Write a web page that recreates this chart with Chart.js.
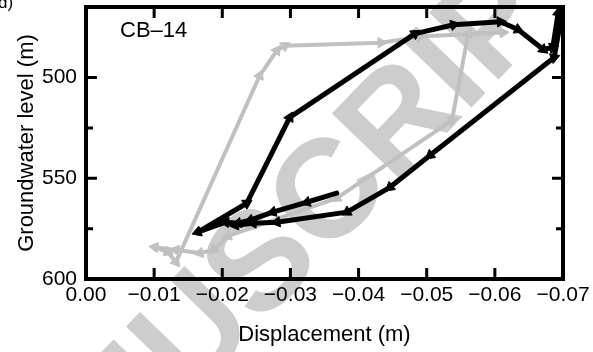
<!DOCTYPE html>
<html><head><meta charset="utf-8">
<script src="https://cdn.jsdelivr.net/npm/chart.js@4.4.1/dist/chart.umd.min.js"></script>
<style>body{margin:0;background:#fff}canvas{display:block}</style>
</head><body>
<canvas id="c" width="593" height="352"></canvas>
<script>
// black path (later period), in time order
const blackDisp  = [-0.0368,-0.0324,-0.0274,-0.0241,-0.0223,-0.0205,-0.0164,-0.0236,-0.0299,-0.0483,-0.0540,-0.0608,-0.0634,-0.0671,-0.0685,-0.0693,-0.0700,-0.0687,-0.0505,-0.0446,-0.0383,-0.0280,-0.0245,-0.0219];
const blackLevel = [557.4,561.9,566.8,570.8,572.3,571.8,576.7,562.4,519.8,478.2,473.8,472.3,476.2,486.1,485.1,467.8,465.3,490.1,538.6,554.5,566.8,571.8,572.3,573.3];
// gray path (earlier period)
const grayDisp  = [-0.0203,-0.0188,-0.0167,-0.0132,-0.0101,-0.0120,-0.0132,-0.0255,-0.0280,-0.0292,-0.0433,-0.0490,-0.0612,-0.0561,-0.0537,-0.0368,-0.0208];
const grayLevel = [580.2,585.6,587.1,585.6,584.2,586.6,591.6,499.0,486.6,484.2,482.7,479.7,477.7,478.2,521.3,559.9,578.7];

const xTickLabels = ['0.00','−0.01','−0.02','−0.03','−0.04','−0.05','−0.06','−0.07'];
const yTickLabels = [500,550,600];
const wellName = 'CB–14';
const panelTag = 'd)';
const watermark = ['MANU','SCRIPT'];

const FONT = '"Liberation Sans", Arial, Helvetica, sans-serif';

const toPts = (xs, ys) => xs.map((x,i)=>({x, y:ys[i]}));

// arrowhead direction = direction of the incoming segment (in pixels)
function arrowRot(ctx){
  const i = ctx.dataIndex, d = ctx.dataset.data, s = ctx.chart.scales;
  if(!i || !s.x || !s.y) return 0;
  const dx = s.x.getPixelForValue(d[i].x) - s.x.getPixelForValue(d[i-1].x);
  const dy = s.y.getPixelForValue(d[i].y) - s.y.getPixelForValue(d[i-1].y);
  return Math.atan2(dy, dx)*180/Math.PI + 90;
}

function path(data, color, width){
  return {
    data, borderColor:color, backgroundColor:color, borderWidth:width,
    borderJoinStyle:'round', borderCapStyle:'round', tension:0,
    pointStyle:'triangle', pointRotation:arrowRot,
    pointRadius: c=> c.dataIndex ? 6 : 0, pointBorderWidth:1,
    pointBackgroundColor:color, pointBorderColor:color
  };
}

const frame = {
  id:'frame',
  beforeDraw(chart){
    const ctx = chart.ctx;
    ctx.save();
    ctx.fillStyle = 'rgb(205,205,205)';
    ctx.font = 'bold 140px ' + FONT;
    ctx.translate(232,300);
    ctx.rotate(-46*Math.PI/180);
    ctx.textBaseline = 'middle';
    ctx.textAlign = 'right'; ctx.fillText(watermark[0],0,0);
    ctx.textAlign = 'left';  ctx.fillText(watermark[1],0,0);
    ctx.restore();
  },
  afterDatasetsDraw(chart){
    const {ctx, chartArea:a, scales:{x,y}} = chart;
    ctx.save();
    ctx.strokeStyle = '#000';
    ctx.lineWidth = 3;
    ctx.beginPath();
    x.ticks.forEach(t=>{
      const px = x.getPixelForValue(t.value);
      ctx.moveTo(px,a.bottom); ctx.lineTo(px,a.bottom-11);
      ctx.moveTo(px,a.top); ctx.lineTo(px,a.top+11);
    });
    y.ticks.forEach(t=>{
      if(t.value % 25) return;
      const py = y.getPixelForValue(t.value), len = t.value % 50 ? 7 : 11;
      ctx.moveTo(a.left,py); ctx.lineTo(a.left+len,py);
      ctx.moveTo(a.right,py); ctx.lineTo(a.right-len,py);
    });
    ctx.stroke();
    ctx.lineWidth = 4;
    ctx.strokeRect(a.left, a.top, a.right-a.left, a.bottom-a.top);
    ctx.fillStyle = '#000';
    ctx.font = '22px ' + FONT;
    ctx.textBaseline = 'alphabetic';
    ctx.fillText(wellName, 120, 37);
    ctx.font = '17px ' + FONT;
    ctx.fillText(panelTag, -2, 8);
    ctx.restore();
  }
};

new Chart(document.getElementById('c'), {
  type:'line',
  data:{ datasets:[
    path(toPts(blackDisp, blackLevel), '#000', 5),
    path(toPts(grayDisp, grayLevel), 'rgb(192,192,192)', 4)
  ]},
  options:{
    responsive:false, animation:false,
    layout:{ padding:{left:0, right:30, top:6, bottom:0} },
    plugins:{ legend:{display:false}, tooltip:{enabled:false} },
    scales:{
      x:{ type:'linear', min:-0.07, max:0, reverse:true,
        grid:{display:false, drawTicks:false}, border:{display:false},
        ticks:{ stepSize:0.01, padding:4, color:'#000', maxRotation:0, autoSkip:false,
          font:{family:FONT, size:21}, callback:v=> xTickLabels[Math.round(-v*100)] },
        title:{ display:true, text:'Displacement (m)', color:'#000', font:{family:FONT, size:22}, padding:{top:4, bottom:4} },
        afterFit:s=>{ s.height = 73; s.paddingLeft = 0; s.paddingRight = 0; }
      },
      y:{ type:'linear', min:465, max:600, reverse:true,
        grid:{display:false, drawTicks:false}, border:{display:false},
        ticks:{ stepSize:25, padding:9, color:'#000', autoSkip:false,
          font:{family:FONT, size:21}, callback:v=> yTickLabels.includes(v) ? String(v) : '' },
        title:{ display:true, text:'Groundwater level (m)', color:'#000', font:{family:FONT, size:22}, padding:{top:14, bottom:14} },
        afterFit:s=>{ s.width = 86; s.paddingTop = 0; s.paddingBottom = 0; }
      }
    }
  },
  plugins:[frame]
});
</script>
</body></html>
